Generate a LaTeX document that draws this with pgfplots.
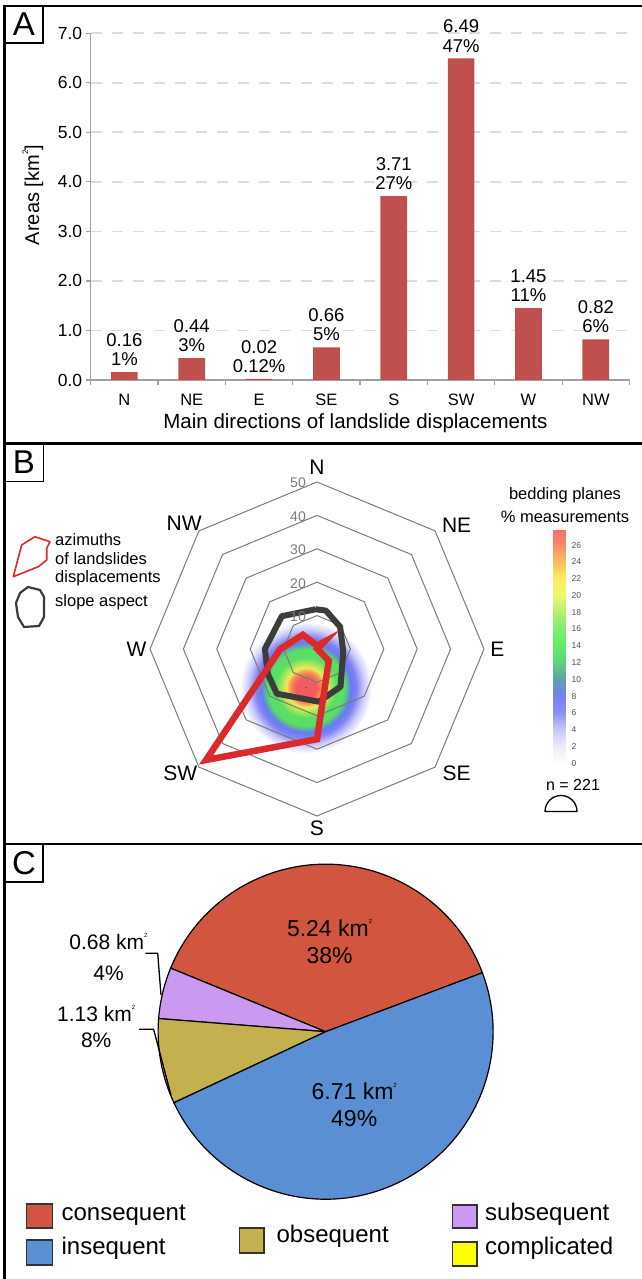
\documentclass[border=0pt]{standalone}
\usepackage{fontspec}
\setmainfont{Liberation Sans}
\usepackage{pgfplots}
\usepackage{pgfplotstable}
\pgfplotsset{compat=1.18}
\usepgfplotslibrary{polar}

\definecolor{barred}{HTML}{C0504D}
\definecolor{gridc}{HTML}{DCDCDC}
\definecolor{axc}{HTML}{A0A0A0}
\definecolor{ringc}{HTML}{7A7A7A}
\definecolor{azred}{HTML}{DC2A2A}
\definecolor{slopec}{HTML}{3C3C3C}
\definecolor{conc}{HTML}{D2553F}
\definecolor{insc}{HTML}{5B8FD4}
\definecolor{obsc}{HTML}{C4B04F}
\definecolor{subc}{HTML}{CC99F2}
\definecolor{comc}{HTML}{FFFF00}
\definecolor{blA}{RGB}{242,92,95}
\definecolor{blB}{RGB}{246,150,80}
\definecolor{blC}{RGB}{242,232,90}
\definecolor{blD}{RGB}{160,232,90}
\definecolor{blE}{RGB}{90,222,100}
\definecolor{blF}{RGB}{100,125,238}
\definecolor{blG}{RGB}{130,130,245}
\definecolor{blH}{RGB}{205,205,250}

% radial shading: the path edge corresponds to 25bp
\pgfdeclareradialshading{blob}{\pgfpoint{0bp}{0bp}}{%
 color(0bp)=(blA); color(4bp)=(blA); color(6bp)=(blB); color(7.5bp)=(blC);
 color(9.5bp)=(blD); color(11.5bp)=(blE); color(14.5bp)=(blE); color(17bp)=(blF);
 color(19bp)=(blG); color(22bp)=(blH); color(25bp)=(white); color(50bp)=(white)}

\newcommand\fs[2]{\fontsize{#1}{#2}\selectfont}
\newcommand\kmsq{km\raisebox{0.55em}{\fs{6}{6}2}}

\pgfplotstableread{
x dir val pct
0 N  0.16 1
1 NE 0.44 3
2 E  0.02 0.12
3 SE 0.66 5
4 S  3.71 27
5 SW 6.49 47
6 W  1.45 11
7 NW 0.82 6
}\bardata

\begin{document}
\begin{tikzpicture}[x=1pt,y=1pt]
\useasboundingbox (0,0) rectangle (642,1279);

% ================= Panel A =================
\begin{axis}[
  at={(90.7pt,899pt)}, anchor=south west,
  scale only axis, width=538.8pt, height=346.8pt,
  xmin=-0.5, xmax=7.5, ymin=0, ymax=7,
  axis x line*=bottom, axis y line*=left,
  axis line style={draw=axc, line width=1.3pt},
  xtick={-0.5,0.5,...,7.5},
  xticklabels={N,NE,E,SE,S,SW,W,NW,{}},
  xticklabel style={anchor=center, xshift=33.68pt, yshift=-15pt, font=\fs{16.5}{18}},
  ytick={0,1,...,7},
  yticklabel style={font=\fs{17.5}{19}, /pgf/number format/fixed, /pgf/number format/fixed zerofill,
     /pgf/number format/precision=1, /pgf/number format/assume math mode=true},
  tick align=outside, major tick length=5pt,
  tick style={draw=axc, line width=1.3pt},
  ymajorgrids,
  major grid style={draw=gridc, line width=1.6pt, dash pattern=on 11pt off 10pt},
  clip=false,
  xlabel={Main directions of landslide displacements},
  xlabel style={at={(axis description cs:0.4913,-0.124)}, anchor=center, font=\fs{20.5}{22}},
  ylabel={Areas [km\raisebox{0.55em}{\fs{8}{8}2}]},
  ylabel style={at={(axis description cs:-0.1071,0.5334)}, anchor=center, font=\fs{20}{22}},
]
\addplot[ybar, bar width=26.7pt, fill=barred, draw=none, point meta=y,
  visualization depends on={\thisrow{pct} \as \barpct},
  nodes near coords={\pgfmathprintnumber[fixed,fixed zerofill,precision=2,assume math mode=true]{\pgfplotspointmeta}\\\pgfmathprintnumber[fixed,precision=2,assume math mode=true]{\barpct}\%},
  every node near coord/.style={anchor=south, align=center, font=\fs{18.5}{19.5}, inner sep=0pt, yshift=6pt}]
  table[x=x, y=val] {\bardata};
\end{axis}

% ================= Panel B =================
% density of bedding planes (drawn first, underneath)
\begin{polaraxis}[
  at={(317pt,630pt)}, anchor=center,
  scale only axis, width=334pt, height=334pt,
  xmin=0, xmax=360, ymin=0, ymax=50,
  hide axis, clip=false,
]
\addplot[scatter, only marks, mark=*, mark size=0.1pt, mark options={draw=none, fill=none}, point meta=y,
  scatter/@pre marker code/.code={\shade[shading=blob, draw=none] (0,0) circle[radius=66pt];},
  scatter/@post marker code/.code={}]
  coordinates {(-106,12)};
\end{polaraxis}

\begin{polaraxis}[
  at={(317pt,630pt)}, anchor=center,
  scale only axis, width=334pt, height=334pt,
  xmin=0, xmax=360, ymin=0, ymax=50,
  hide axis, clip=false,
]
% octagonal rings
\addplot[ringc, line width=1pt, mark=none] coordinates {(90,10) (45,10) (0,10) (-45,10) (-90,10) (-135,10) (180,10) (135,10) (90,10)};
\addplot[ringc, line width=1pt, mark=none] coordinates {(90,20) (45,20) (0,20) (-45,20) (-90,20) (-135,20) (180,20) (135,20) (90,20)};
\addplot[ringc, line width=1pt, mark=none] coordinates {(90,30) (45,30) (0,30) (-45,30) (-90,30) (-135,30) (180,30) (135,30) (90,30)};
\addplot[ringc, line width=1pt, mark=none] coordinates {(90,40) (45,40) (0,40) (-45,40) (-90,40) (-135,40) (180,40) (135,40) (90,40)};
\addplot[ringc, line width=1pt, mark=none] coordinates {(90,50) (45,50) (0,50) (-45,50) (-90,50) (-135,50) (180,50) (135,50) (90,50)};
% slope aspect
\addplot[slopec, line width=6pt, mark=none, line join=round] coordinates {(92,11.9) (77,11.8) (44,9.6) (-6,7.9) (-58,13.3) (-88,15.8) (-132,18) (-153,16.5) (180,15.6) (137,14.4) (92,11.9)};
% azimuths of landslide displacements (% of area)
\addplot[azred, line width=6.5pt, mark=none, line join=miter] coordinates {(90,1) (45,3) (0,0.12) (-45,5) (-90,27) (-135,47) (180,11) (135,6) (90,1)};
% ring labels
\foreach \r in {10,20,30,40,50} {
  \edef\tmp{\noexpand\node[anchor=east, inner sep=0pt, text=ringc, font=\noexpand\fs{14}{15}, xshift=-11pt, yshift=-1pt] at (axis cs:90,\r) {\r};}
  \tmp
}
% direction labels
\node[font=\fs{21}{22}] at (axis cs:90,54.5) {N};
\node[font=\fs{21}{22}] at (axis cs:41.6,55.9) {NE};
\node[font=\fs{21}{22}] at (axis cs:0,54) {E};
\node[font=\fs{21}{22}] at (axis cs:-41.6,55.9) {SE};
\node[font=\fs{21}{22}] at (axis cs:-90,53.6) {S};
\node[font=\fs{21}{22}] at (axis cs:-137.8,55.3) {SW};
\node[font=\fs{21}{22}] at (axis cs:180,54) {W};
\node[font=\fs{21}{22}] at (axis cs:136.5,54.8) {NW};
\end{polaraxis}

% colour bar of bedding planes
\begin{axis}[
  at={(553.3pt,515.7pt)}, anchor=south west,
  scale only axis, width=11.7pt, height=233.3pt,
  xmin=0, xmax=1, ymin=0, ymax=27.8,
  xtick=\empty, ytick={0,2,...,26},
  axis line style={draw=gray!70, line width=0.8pt},
  yticklabel pos=right, tick align=inside, major tick length=2.5pt,
  tick style={draw=gray!80, line width=0.6pt},
  yticklabel style={font=\fs{8.5}{9}, text=gray!60!black, anchor=west, inner sep=0pt, xshift=6.5pt,
     /pgf/number format/assume math mode=true},
  colormap={bed}{rgb255=(255,255,255) rgb255=(235,235,250) rgb255=(200,200,248) rgb255=(140,145,245)
     rgb255=(118,128,242) rgb255=(95,160,175) rgb255=(95,210,120) rgb255=(100,235,100)
     rgb255=(120,240,110) rgb255=(180,240,110) rgb255=(240,245,110) rgb255=(250,238,100)
     rgb255=(248,190,90) rgb255=(248,140,100) rgb255=(248,110,110)},
  point meta min=0, point meta max=28,
]
\addplot[surf, shader=interp, mesh/rows=2, mesh/cols=2, point meta=y] coordinates {(0,0) (1,0) (0,27.8) (1,27.8)};
\end{axis}

\node[font=\fs{16.5}{18}] at (565,784) {bedding planes};
\node[font=\fs{16.5}{18}] at (565,762.3) {\% measurements};
\node[font=\fs{16}{18}] at (573,494) {n = 221};
\draw[line width=1.3pt] (545,467.5) arc[start angle=180,end angle=0,radius=16] -- cycle;

% legend of panel B
\draw[azred, line width=1.6pt, line join=round] (13.3,702.3) -- (21.7,734) -- (35,742.3) -- (50,737.3) -- (46.7,730.7) -- (46.7,719) -- (38.3,712.3) -- cycle;
\draw[slopec, line width=2.2pt, line join=round] (28,692) -- (40,689) -- (44,682) -- (44,662) -- (39,653) -- (24,652) -- (18,662) -- (16,676) -- (20,686) -- cycle;
\begin{scope}[every node/.style={anchor=west, inner sep=0pt, text height=0.72em, text depth=0.2em, font=\fs{16.5}{18}}]
\node at (55,736) {azimuths};
\node at (55,717) {of landslides};
\node at (55,699) {displacements};
\node at (55,675) {slope aspect};
\end{scope}

% ================= Panel C =================
\begin{polaraxis}[
  at={(325.6pt,247.3pt)}, anchor=center,
  scale only axis, width=335pt, height=335pt,
  xmin=0, xmax=360, ymin=0, ymax=1,
  hide axis, clip=false,
]
% consequent 5.24, subsequent 0.68, obsequent 1.13, insequent 6.71 (total 13.76 km2)
\addplot[fill=conc, draw=black, line width=1.2pt, mark=none] coordinates {(0,0) (20.6,1)} arc[start angle=20.6, end angle=157.7, radius=167.5pt] -- cycle;
\addplot[fill=subc, draw=black, line width=1.2pt, mark=none] coordinates {(0,0) (157.7,1)} arc[start angle=157.7, end angle=175.5, radius=167.5pt] -- cycle;
\addplot[fill=obsc, draw=black, line width=1.2pt, mark=none] coordinates {(0,0) (175.5,1)} arc[start angle=175.5, end angle=205.1, radius=167.5pt] -- cycle;
\addplot[fill=insc, draw=black, line width=1.2pt, mark=none] coordinates {(0,0) (205.1,1)} arc[start angle=205.1, end angle=380.6, radius=167.5pt] -- cycle;
\end{polaraxis}

\node[align=center, font=\fs{23}{26.7}] at (329.6,337.4) {5.24 \kmsq\\38\%};
\node[align=center, font=\fs{23}{26.7}] at (354.2,174) {6.71 \kmsq\\49\%};
\node[font=\fs{21}{22}] at (108.5,337.3) {0.68 \kmsq};
\node[font=\fs{21}{22}] at (108.5,305.7) {4\%};
\node[font=\fs{21}{22}] at (96.2,265.7) {1.13 \kmsq};
\node[font=\fs{21}{22}] at (96.2,239) {8\%};
\draw[line width=1.3pt] (145.4,325.7) -- (157.7,325.7) -- (161,284);
\draw[line width=1.3pt] (139.2,249.7) -- (153.6,249.7) -- (171,184);

% legend of panel C
\begin{scope}[line width=1.5pt]
\draw[fill=conc, draw=black!80] (26.6,51) rectangle (52.4,75);
\draw[fill=insc, draw=black!80] (26.6,14) rectangle (52.4,39);
\draw[fill=obsc, draw=black!80] (239.6,26) rectangle (264,51);
\draw[fill=subc, draw=black!80] (452.5,51) rectangle (477,74);
\draw[fill=comc, draw=black!80] (452.5,13) rectangle (477,37);
\end{scope}
\begin{scope}[every node/.style={anchor=west, inner sep=0pt, text height=0.72em, text depth=0.2em, font=\fs{24}{26}}]
\node at (61.4,61) {consequent};
\node at (61.4,27.3) {insequent};
\node at (276.4,39) {obsequent};
\node at (485,61) {subsequent};
\node at (485,27) {complicated};
\end{scope}

% ================= frames =================
\draw[line width=2.5pt] (4.5,0) -- (4.5,1273) -- (642,1273);
\draw[line width=2.5pt] (4.5,835.5) -- (642,835.5);
\draw[line width=2.5pt] (4.5,435) -- (642,435);
\draw[line width=1.5pt] (4.5,1273) rectangle (43,1236);
\draw[line width=1.5pt] (4.5,835.5) rectangle (43.3,797.3);
\draw[line width=1.5pt] (4.5,435) rectangle (43,397);
\node[font=\fs{33}{34}] at (24,1254.5) {A};
\node[font=\fs{33}{34}] at (24,816.5) {B};
\node[font=\fs{33}{34}] at (24,416) {C};
\end{tikzpicture}
\end{document}
